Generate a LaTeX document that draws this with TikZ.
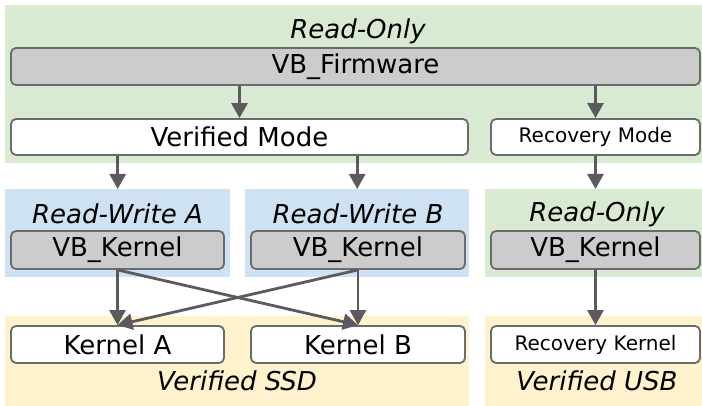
\documentclass[tikz,border=0pt]{standalone}
\usepackage{fontspec}
\setmainfont{DejaVu Sans}
\usetikzlibrary{arrows.meta}
\definecolor{greenbg}{HTML}{D9EAD3}
\definecolor{bluebg}{HTML}{CFE2F3}
\definecolor{yellowbg}{HTML}{FFF2CC}
\definecolor{boxgray}{HTML}{CCCCCC}
\definecolor{edgegray}{HTML}{6B6B6B}
\definecolor{arrowgray}{HTML}{5A5A5F}
\tikzset{
  region/.style={fill=#1, draw=none, inner sep=0pt, anchor=north west},
  vbox/.style={draw=edgegray, line width=1.8pt, rounded corners=5pt, inner sep=0pt, fill=#1, font=\fontsize{26}{30}\selectfont},
  smallbox/.style={vbox=white, font=\fontsize{20}{24}\selectfont},
  areatitle/.style={font=\fontsize{26}{30}\selectfont\itshape, inner sep=0pt},
  flow/.style={draw=arrowgray, line width=2.8pt, -{Triangle[length=15pt, width=16pt]}},
}
\begin{document}
\begin{tikzpicture}[x=1pt,y=-1pt]
\useasboundingbox (0,0) rectangle (702,406);
% regions
\node[region=greenbg, minimum width=697pt, minimum height=158pt] (ro) at (5,5) {};
\node[region=bluebg, minimum width=225pt, minimum height=88pt] (rwA) at (5,189) {};
\node[region=bluebg, minimum width=224pt, minimum height=88pt] (rwB) at (245,189) {};
\node[region=greenbg, minimum width=217pt, minimum height=88pt] (roR) at (485,189) {};
\node[region=yellowbg, minimum width=464pt, minimum height=90pt] (ssd) at (5,316) {};
\node[region=yellowbg, minimum width=217pt, minimum height=90pt] (usb) at (485,316) {};
% region titles
\node[areatitle] (t1) at (358,31) {Read-Only};
\node[areatitle] (t2) at (117.5,214) {Read-Write A};
\node[areatitle] (t3) at (358,214) {Read-Write B};
\node[areatitle] (t4) at (597,214) {Read-Only};
\node[areatitle] (t5) at (237,381) {Verified SSD};
\node[areatitle] (t6) at (597,381) {Verified USB};
% boxes
\node[vbox=boxgray, minimum width=689pt, minimum height=37pt] (firm) at (355.5,66.5) {VB\_Firmware};
\node[vbox=white, minimum width=457pt, minimum height=36pt] (verif) at (239.5,137) {Verified Mode};
\node[smallbox, minimum width=209pt, minimum height=36pt] (recov) at (595.5,137) {Recovery Mode};
\node[vbox=boxgray, minimum width=213pt, minimum height=38pt] (vbkA) at (117.5,250) {VB\_Kernel};
\node[vbox=boxgray, minimum width=214pt, minimum height=38pt] (vbkB) at (358,250) {VB\_Kernel};
\node[vbox=boxgray, minimum width=209pt, minimum height=38pt] (vbkR) at (595.5,250) {VB\_Kernel};
\node[vbox=white, minimum width=213pt, minimum height=37pt] (kA) at (117.5,344.5) {Kernel A};
\node[vbox=white, minimum width=214pt, minimum height=37pt] (kB) at (358,344.5) {Kernel B};
\node[smallbox, minimum width=209pt, minimum height=37pt] (kR) at (595.5,344.5) {Recovery Kernel};
% arrows
\draw[flow] (firm.south -| verif.north) -- (verif.north);
\draw[flow] (firm.south -| recov.north) -- (recov.north);
\draw[flow] (verif.south -| rwA.north) -- (rwA.north);
\draw[flow] (verif.south -| rwB.north) -- (rwB.north);
\draw[flow] (recov.south) -- (roR.north -| recov.south);
\draw[flow] (vbkA.south) -- (kA.north);
\draw[flow] (vbkB.south) -- (kB.north);
\draw[flow] (vbkA.south) -- (kB.north);
\draw[flow] (vbkB.south) -- (kA.north);
\draw[flow] (vbkR.south) -- (kR.north);
\end{tikzpicture}
\end{document}
